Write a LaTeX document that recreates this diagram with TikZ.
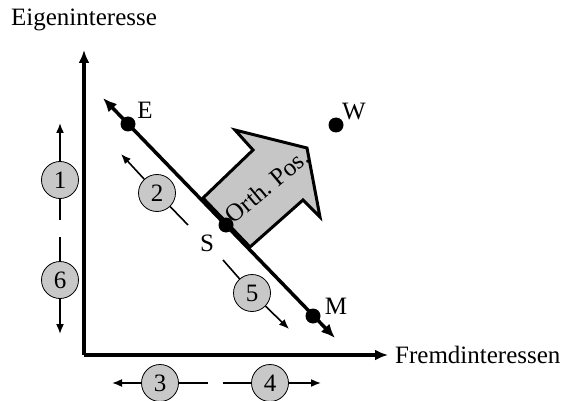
\documentclass[tikz,border=0pt]{standalone}
\usepackage{fontspec}
\setmainfont{Liberation Serif}
\usetikzlibrary{arrows.meta, positioning}
\definecolor{circlegray}{RGB}{200, 200, 200}
\definecolor{arrowgray}{RGB}{198, 198, 198}

\begin{document}
\begin{tikzpicture}[x=1pt, y=-1pt,
    axis/.style={line width=4pt, -{Latex[length=13pt, width=11pt]}},
    mainline/.style={line width=3.5pt, {Latex[length=14pt, width=12pt]}-{Latex[length=14pt, width=12pt]}},
    shiftarrow/.style={line width=1.6pt, -{Latex[length=10pt, width=8pt]}},
    stub/.style={line width=1.6pt},
    posdot/.style={circle, fill=black, inner sep=0pt, minimum size=15pt},
    numcirc/.style={circle, draw=black, fill=circlegray, line width=0.8pt, minimum size=37pt,
                    inner sep=0pt, font=\fontsize{25}{28}\selectfont},
    lbl/.style={font=\fontsize{25}{28}\selectfont}
]
\useasboundingbox (0,0) rectangle (565,401);

% axes
\coordinate (origin) at (84,355);
\coordinate (ytip) at (84,50);
\coordinate (xtip) at (388,355);
\draw[axis] (origin) -- (ytip);
\draw[axis] (origin) -- (xtip);
\node[lbl] (ylabel) at (84,20) {Eigeninteresse};
\node[lbl, anchor=west, inner sep=0pt] (xlabel) at (395,355) {Fremdinteressen};

% orthogonal position arrow
\draw[line width=3pt, fill=arrowgray, line join=miter]
    (203,198) -- (253,150) -- (235,130) -- (307,148) -- (320,217) -- (303,200) -- (250,247) -- cycle;
\node[lbl, rotate=40, inner sep=0pt] (orth) at (267,186) {Orth.\ Pos.};

% diagonal E--M
\coordinate (diagA) at (103,98);
\coordinate (diagB) at (335,338);
\draw[mainline] (diagA) -- (diagB);

\node[posdot] (E) at (128,124) {};
\node[posdot] (S) at (226,225) {};
\node[posdot] (M) at (313,316) {};
\node[posdot] (W) at (336,125) {};
\node[lbl] (Elbl) at (145,110) {E};
\node[lbl] (Slbl) at (207,243) {S};
\node[lbl] (Mlbl) at (336,306) {M};
\node[lbl] (Wlbl) at (354,112) {W};

% numbered movements
\node[numcirc] (n1) at (60,180) {1};
\coordinate (n1tip) at (60,123);
\coordinate (n1end) at (60,220);
\draw[shiftarrow] (n1) -- (n1tip);
\draw[stub] (n1) -- (n1end);

\node[numcirc] (n6) at (60,280) {6};
\coordinate (n6tip) at (60,334);
\coordinate (n6end) at (60,237);
\draw[shiftarrow] (n6) -- (n6tip);
\draw[stub] (n6) -- (n6end);

\node[numcirc] (n3) at (160,383) {3};
\coordinate (n3tip) at (112,383);
\coordinate (n3end) at (208,383);
\draw[shiftarrow] (n3) -- (n3tip);
\draw[stub] (n3) -- (n3end);

\node[numcirc] (n4) at (270,383) {4};
\coordinate (n4tip) at (321,383);
\coordinate (n4end) at (223,383);
\draw[shiftarrow] (n4) -- (n4tip);
\draw[stub] (n4) -- (n4end);

\node[numcirc] (n2) at (157,193) {2};
\coordinate (n2tip) at (121,154);
\coordinate (n2end) at (188,225);
\draw[shiftarrow] (n2) -- (n2tip);
\draw[stub] (n2) -- (n2end);

\node[numcirc] (n5) at (252,293) {5};
\coordinate (n5tip) at (289,329);
\coordinate (n5end) at (223,260);
\draw[shiftarrow] (n5) -- (n5tip);
\draw[stub] (n5) -- (n5end);

\end{tikzpicture}
\end{document}
